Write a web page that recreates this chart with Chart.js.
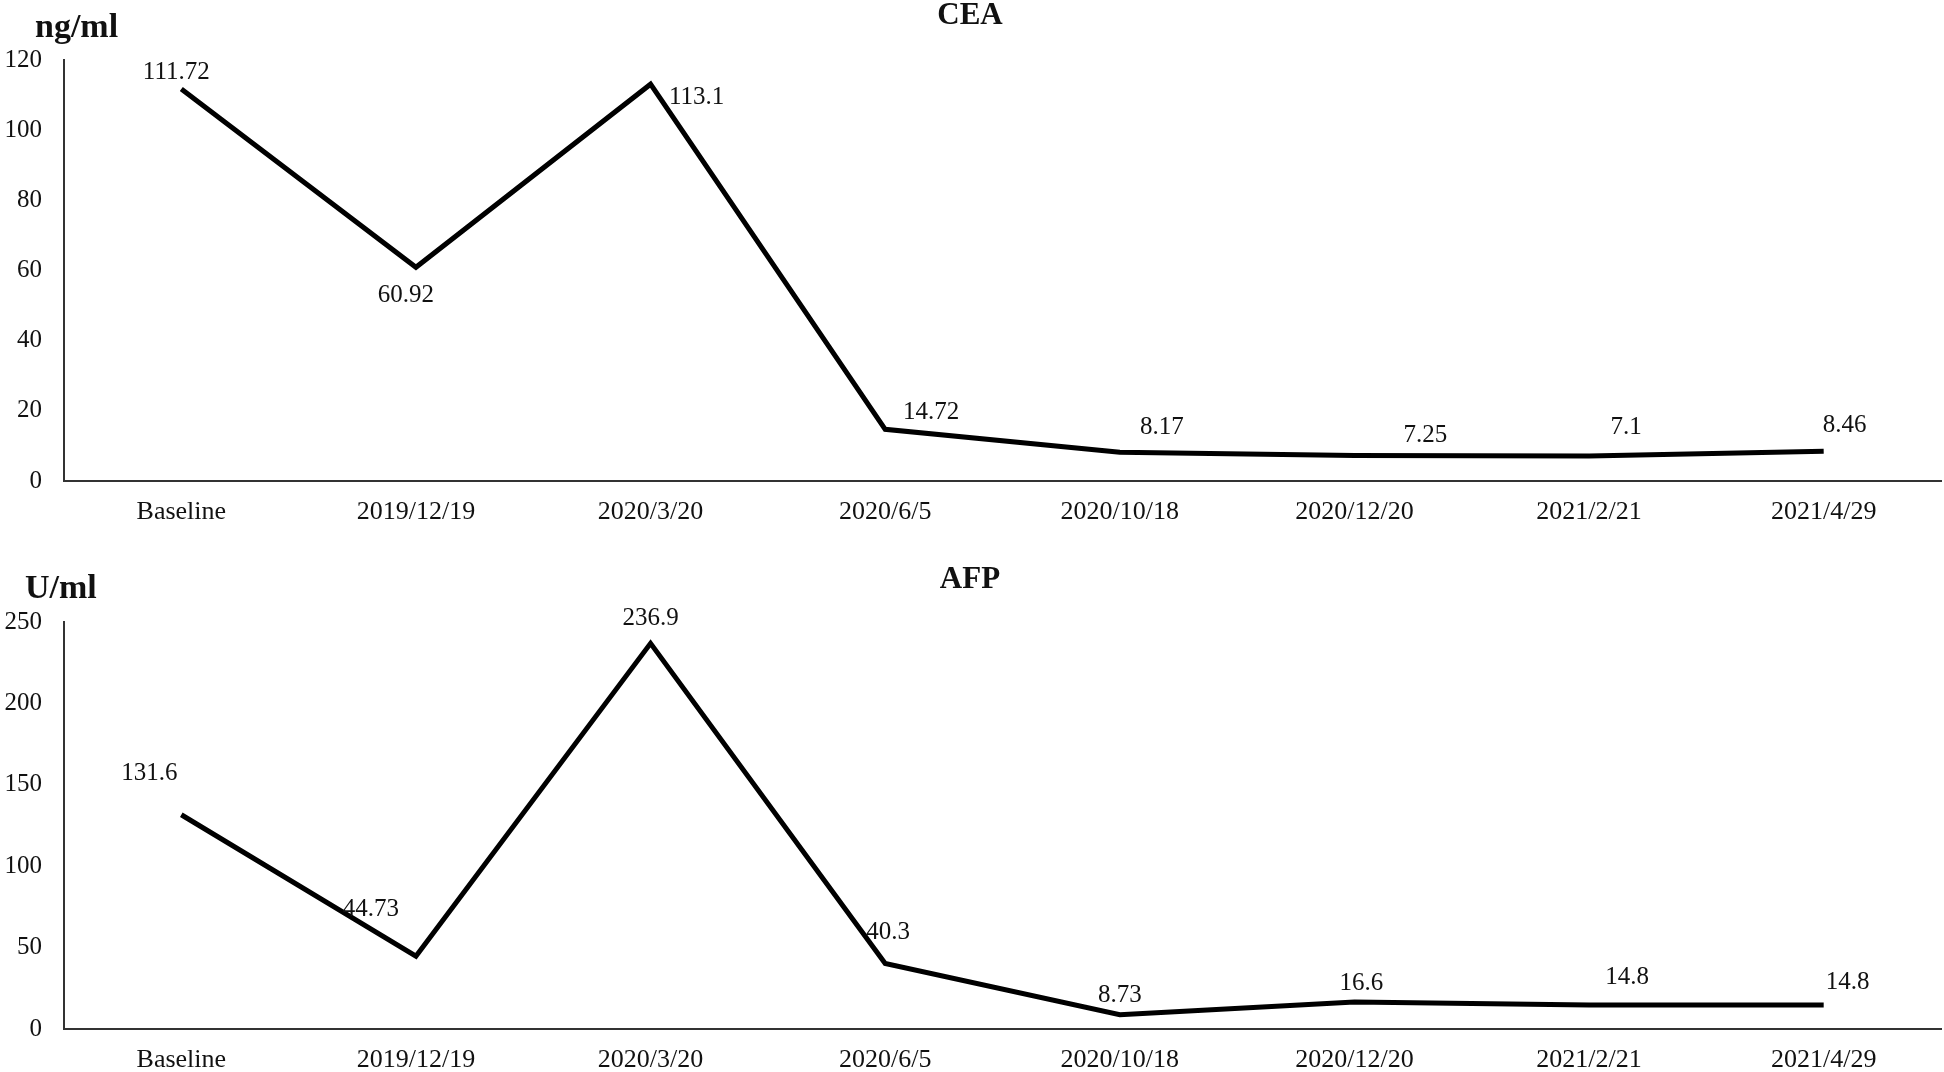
<!DOCTYPE html>
<html>
<head>
<meta charset="utf-8">
<title>CEA / AFP</title>
<script src="https://cdn.jsdelivr.net/npm/chart.js@4.4.1/dist/chart.umd.min.js"></script>
<style>
    html, body { margin: 0; padding: 0; background: #fff; }
    canvas { display: block; }
</style>
</head>
<body>
<canvas id="cea-chart" width="1944" height="536"></canvas>
<canvas id="afp-chart" width="1944" height="536"></canvas>
<script>
const dates = ['Baseline', '2019/12/19', '2020/3/20', '2020/6/5', '2020/10/18', '2020/12/20', '2021/2/21', '2021/4/29'];
const ceaValues = [111.72, 60.92, 113.1, 14.72, 8.17, 7.25, 7.1, 8.46];
const afpValues = [131.6, 44.73, 236.9, 40.3, 8.73, 16.6, 14.8, 14.8];
const ceaTicks = { min: 0, max: 120, step: 20 };
const afpTicks = { min: 0, max: 250, step: 50 };

// where each value label sits relative to its point (px)
const ceaLabelOffsets = [[-5, -17], [-10, 28], [46, 13], [46, -17], [42, -25], [71, -20], [37, -29], [21, -26]];
const afpLabelOffsets = [[-32, -41], [-45, -47], [0, -25], [3, -31], [0, -19], [7, -19], [38, -27], [24, -22]];

const ink = '#111111';
const serif = '"Liberation Serif", "Times New Roman", serif';

Chart.defaults.font.family = serif;
Chart.defaults.font.size = 25;
Chart.defaults.color = ink;

const pointLabels = {
    id: 'pointLabels',
    afterDatasetsDraw(chart, args, opts) {
        const { ctx } = chart;
        const meta = chart.getDatasetMeta(0);
        const values = chart.data.datasets[0].data;
        ctx.save();
        ctx.font = '25px ' + serif;
        ctx.fillStyle = ink;
        ctx.textAlign = 'center';
        ctx.textBaseline = 'middle';
        meta.data.forEach((pt, i) => {
            const [dx, dy] = opts.offsets[i];
            ctx.fillText(String(values[i]), pt.x + dx, pt.y + dy);
        });
        ctx.restore();
    },
};

const heading = {
    id: 'heading',
    afterDraw(chart, args, opts) {
        const { ctx } = chart;
        ctx.save();
        ctx.fillStyle = ink;
        ctx.font = 'bold 31px ' + serif;
        ctx.textAlign = 'center';
        ctx.textBaseline = 'alphabetic';
        ctx.fillText(opts.title, 970, opts.titleY);
        ctx.font = 'bold 34px ' + serif;
        ctx.textAlign = 'left';
        ctx.fillText(opts.unit, opts.unitX, opts.unitY);
        ctx.restore();
    },
};

function renderLineChart(canvas, values, ticks, cfg) {
    return new Chart(canvas, {
        type: 'line',
        data: {
            labels: dates,
            datasets: [{
                data: values,
                borderColor: '#000',
                borderWidth: 5,
                borderJoinStyle: 'miter',
                pointRadius: 0,
                tension: 0,
                fill: false,
            }],
        },
        options: {
            responsive: false,
            animation: false,
            layout: { padding: { top: cfg.top, right: 3, bottom: 0, left: 0 } },
            scales: {
                x: {
                    offset: true,
                    grid: { display: false, drawTicks: false },
                    border: { display: true, color: '#333', width: 2 },
                    ticks: { padding: 16, maxRotation: 0, autoSkip: false, font: { size: 26 } },
                    afterFit: (scale) => { scale.height = cfg.xHeight; },
                },
                y: {
                    min: ticks.min,
                    max: ticks.max,
                    grid: { display: false, drawTicks: false },
                    border: { display: true, color: '#333', width: 2 },
                    ticks: { stepSize: ticks.step, padding: 22, font: { size: 25 } },
                    afterFit: (scale) => { scale.width = 64; },
                },
            },
            plugins: {
                legend: { display: false },
                tooltip: { enabled: false },
                pointLabels: { offsets: cfg.offsets },
                heading: { title: cfg.title, titleY: cfg.titleY, unit: cfg.unit, unitX: cfg.unitX, unitY: cfg.unitY },
            },
        },
        plugins: [pointLabels, heading],
    });
}

renderLineChart(document.getElementById('cea-chart'), ceaValues, ceaTicks, {
    top: 60, xHeight: 55, offsets: ceaLabelOffsets,
    title: 'CEA', titleY: 24, unit: 'ng/ml', unitX: 35, unitY: 37,
});

renderLineChart(document.getElementById('afp-chart'), afpValues, afpTicks, {
    top: 86, xHeight: 43, offsets: afpLabelOffsets,
    title: 'AFP', titleY: 52, unit: 'U/ml', unitX: 25, unitY: 62,
});
</script>
</body>
</html>
